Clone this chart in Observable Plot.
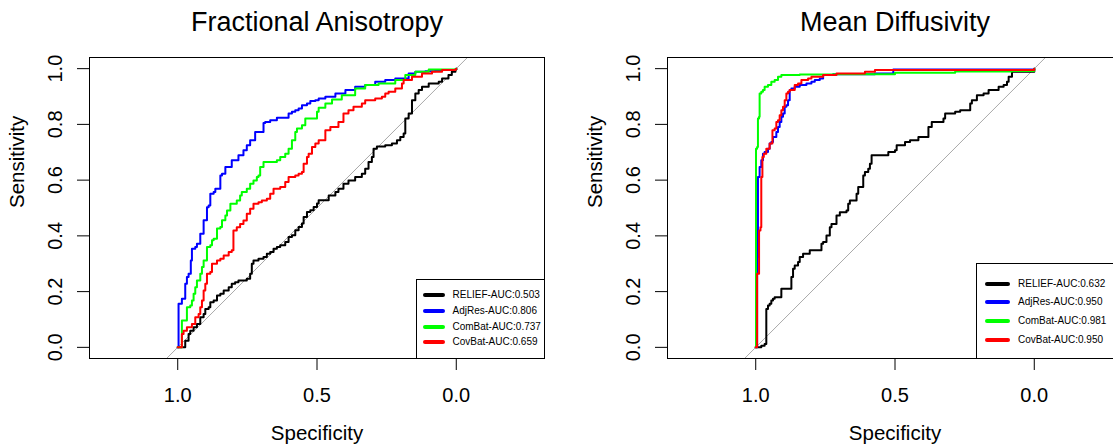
<!DOCTYPE html>
<html>
<head>
<meta charset="utf-8">
<script src="https://cdn.jsdelivr.net/npm/d3@7"></script>
<script src="https://cdn.jsdelivr.net/npm/@observablehq/plot@0.6"></script>
<style>
  body { margin: 0; background: #fff; }
  #wrap { position: relative; width: 1113px; height: 446px; overflow: hidden; background: #fff;
          font-family: "Liberation Sans", Arial, Helvetica, sans-serif; }
  .panel { position: absolute; top: 0; width: 556px; height: 446px; }
  .panel svg { max-width: none !important; width: 556px; height: 446px; }
  .legend { position: absolute; border: 1px solid #000; background: #fff; box-sizing: border-box; }
  .legend .row { position: absolute; left: 0; height: 12px; line-height: 12px; font-size: 10px; color: #000; white-space: nowrap; }
  .legend .sw { position: absolute; height: 4px; border-radius: 2px; top: 4px; }
  .legend .lbl { position: absolute; top: 0; }
</style>
</head>
<body>
<div id="wrap"></div>
<script>
// ---- categories / labels ----
const seriesNames = ["RELIEF", "AdjRes", "ComBat", "CovBat"];
const seriesColors = ["#000000", "#0000FF", "#00FF00", "#FF0000"];
const panelTitles = ["Fractional Anisotropy", "Mean Diffusivity"];
const xTicks = [1.0, 0.5, 0.0];
const yTicks = [0, 0.2, 0.4, 0.6, 0.8, 1.0];
const xLabel = "Specificity";
const yLabel = "Sensitivity";
const aucFA = [0.503, 0.806, 0.737, 0.659];
const aucMD = [0.632, 0.950, 0.981, 0.950];
const xDomain = [1.3167, -0.3167];
const yDomain = [-0.04, 1.04];

// ---- ROC curves [specificity, sensitivity] : Fractional Anisotropy ----
const faRelief = [[1,0],[0.979,0],[0.973,0.024],[0.961,0.048],[0.955,0.060],[0.943,0.072],[0.931,0.084],[0.919,0.108],[0.907,0.120],[0.901,0.138],[0.889,0.144],[0.883,0.162],[0.871,0.168],[0.859,0.186],[0.847,0.192],[0.835,0.204],[0.817,0.216],[0.806,0.228],[0.794,0.234],[0.782,0.240],[0.752,0.246],[0.740,0.264],[0.734,0.300],[0.728,0.312],[0.710,0.318],[0.692,0.324],[0.680,0.336],[0.668,0.342],[0.656,0.354],[0.644,0.360],[0.632,0.366],[0.614,0.378],[0.602,0.396],[0.590,0.402],[0.578,0.420],[0.566,0.432],[0.554,0.444],[0.548,0.468],[0.536,0.486],[0.524,0.492],[0.512,0.504],[0.500,0.516],[0.494,0.528],[0.458,0.545],[0.434,0.557],[0.423,0.569],[0.405,0.587],[0.387,0.599],[0.363,0.611],[0.339,0.623],[0.327,0.641],[0.315,0.665],[0.303,0.683],[0.297,0.713],[0.285,0.721],[0.255,0.725],[0.231,0.731],[0.213,0.743],[0.201,0.755],[0.189,0.767],[0.183,0.821],[0.171,0.839],[0.159,0.887],[0.147,0.911],[0.135,0.923],[0.123,0.935],[0.099,0.947],[0.063,0.953],[0.051,0.965],[0.028,0.977],[0.016,0.989],[0.003,0.997],[0,1]];
const faAdjRes = [[1,0],[0.997,0],[0.997,0.156],[0.985,0.174],[0.973,0.228],[0.967,0.252],[0.961,0.264],[0.953,0.312],[0.949,0.354],[0.937,0.360],[0.931,0.372],[0.919,0.408],[0.907,0.456],[0.895,0.503],[0.889,0.509],[0.883,0.551],[0.871,0.557],[0.865,0.569],[0.847,0.617],[0.841,0.623],[0.829,0.647],[0.806,0.671],[0.782,0.689],[0.764,0.707],[0.752,0.725],[0.740,0.743],[0.722,0.773],[0.692,0.805],[0.686,0.809],[0.668,0.815],[0.644,0.824],[0.602,0.839],[0.590,0.845],[0.578,0.851],[0.566,0.857],[0.554,0.869],[0.536,0.875],[0.524,0.884],[0.506,0.887],[0.494,0.893],[0.470,0.899],[0.434,0.911],[0.398,0.923],[0.363,0.935],[0.327,0.941],[0.291,0.953],[0.255,0.959],[0.219,0.965],[0.171,0.983],[0.147,0.989],[0.111,0.991],[0.075,0.995],[0.028,0.995],[0.003,0.997],[0,1]];
const faComBat = [[1,0],[0.985,0.096],[0.967,0.144],[0.955,0.150],[0.949,0.168],[0.943,0.192],[0.937,0.216],[0.931,0.240],[0.919,0.264],[0.913,0.288],[0.907,0.312],[0.895,0.360],[0.883,0.366],[0.877,0.384],[0.871,0.390],[0.859,0.426],[0.847,0.432],[0.841,0.456],[0.829,0.473],[0.823,0.491],[0.811,0.515],[0.788,0.527],[0.776,0.545],[0.770,0.557],[0.752,0.569],[0.740,0.587],[0.728,0.599],[0.716,0.611],[0.710,0.617],[0.704,0.647],[0.692,0.665],[0.644,0.671],[0.632,0.683],[0.614,0.695],[0.602,0.713],[0.590,0.743],[0.578,0.773],[0.572,0.785],[0.554,0.797],[0.542,0.821],[0.500,0.845],[0.494,0.860],[0.470,0.875],[0.446,0.889],[0.411,0.905],[0.363,0.929],[0.327,0.941],[0.279,0.947],[0.219,0.959],[0.183,0.977],[0.147,0.989],[0.099,0.997],[0.003,0.997],[0,1]];
const faCovBat = [[1,0],[0.985,0.048],[0.979,0.060],[0.967,0.072],[0.949,0.084],[0.937,0.108],[0.925,0.120],[0.919,0.144],[0.913,0.168],[0.907,0.204],[0.901,0.228],[0.895,0.264],[0.883,0.270],[0.877,0.300],[0.859,0.312],[0.847,0.318],[0.835,0.330],[0.817,0.342],[0.806,0.348],[0.800,0.419],[0.788,0.431],[0.776,0.443],[0.764,0.455],[0.752,0.479],[0.740,0.497],[0.728,0.515],[0.710,0.521],[0.698,0.527],[0.680,0.533],[0.668,0.551],[0.656,0.569],[0.632,0.575],[0.614,0.593],[0.602,0.611],[0.578,0.617],[0.566,0.623],[0.554,0.629],[0.548,0.659],[0.536,0.683],[0.530,0.695],[0.518,0.719],[0.506,0.731],[0.494,0.743],[0.470,0.779],[0.452,0.791],[0.423,0.809],[0.405,0.839],[0.387,0.851],[0.369,0.863],[0.339,0.875],[0.327,0.887],[0.291,0.893],[0.267,0.899],[0.255,0.911],[0.243,0.917],[0.219,0.929],[0.195,0.947],[0.189,0.959],[0.159,0.971],[0.123,0.983],[0.087,0.989],[0.051,0.995],[0.003,0.997],[0,1]];

// ---- ROC curves : Mean Diffusivity ----
const mdRelief = [[1,0],[0.980,0.006],[0.968,0.012],[0.962,0.018],[0.962,0.138],[0.956,0.150],[0.950,0.156],[0.944,0.168],[0.938,0.174],[0.932,0.180],[0.908,0.210],[0.872,0.252],[0.866,0.282],[0.860,0.294],[0.848,0.306],[0.842,0.324],[0.830,0.336],[0.806,0.348],[0.764,0.372],[0.758,0.378],[0.746,0.401],[0.734,0.431],[0.728,0.443],[0.710,0.473],[0.698,0.485],[0.674,0.491],[0.668,0.515],[0.662,0.527],[0.638,0.551],[0.632,0.575],[0.614,0.617],[0.608,0.629],[0.596,0.641],[0.590,0.659],[0.584,0.689],[0.524,0.701],[0.500,0.707],[0.494,0.725],[0.464,0.737],[0.446,0.743],[0.416,0.755],[0.380,0.791],[0.368,0.809],[0.326,0.821],[0.320,0.839],[0.284,0.845],[0.266,0.851],[0.230,0.875],[0.224,0.887],[0.206,0.905],[0.182,0.911],[0.164,0.923],[0.128,0.935],[0.110,0.941],[0.098,0.953],[0.092,0.971],[0.080,0.989],[0.008,0.989],[0,1]];
const mdAdjRes = [[1,0],[0.995,0.323],[0.992,0.611],[0.986,0.647],[0.980,0.671],[0.974,0.695],[0.968,0.701],[0.956,0.713],[0.950,0.731],[0.944,0.737],[0.938,0.755],[0.926,0.773],[0.920,0.791],[0.914,0.809],[0.908,0.827],[0.902,0.839],[0.896,0.863],[0.890,0.869],[0.884,0.887],[0.878,0.923],[0.872,0.929],[0.860,0.935],[0.842,0.941],[0.818,0.947],[0.800,0.953],[0.788,0.959],[0.770,0.965],[0.758,0.977],[0.722,0.980],[0.572,0.983],[0.506,0.997],[0,1]];
const mdComBat = [[1,0],[0.999,0.713],[0.995,0.719],[0.992,0.821],[0.988,0.827],[0.986,0.911],[0.980,0.917],[0.974,0.923],[0.968,0.935],[0.956,0.941],[0.944,0.953],[0.932,0.959],[0.920,0.971],[0.908,0.977],[0.842,0.979],[0.722,0.980],[0.500,0.985],[0.284,0.990],[0.080,0.992],[0,1]];
const mdCovBat = [[1,0],[0.995,0.264],[0.988,0.419],[0.983,0.431],[0.980,0.611],[0.976,0.683],[0.971,0.695],[0.962,0.713],[0.950,0.731],[0.940,0.779],[0.932,0.785],[0.926,0.809],[0.920,0.815],[0.914,0.833],[0.908,0.851],[0.902,0.863],[0.896,0.887],[0.890,0.911],[0.884,0.917],[0.878,0.923],[0.860,0.941],[0.848,0.947],[0.836,0.959],[0.812,0.965],[0.800,0.971],[0.758,0.977],[0.710,0.983],[0.608,0.989],[0.572,0.995],[0,1]];

const panels = [
  {title: panelTitles[0], curves: [faRelief, faAdjRes, faComBat, faCovBat], auc: aucFA, left: 0,
   legend: {left: 416, top: 279, width: 129, height: 80, rows: [16, 32, 47.5, 63], sw: [7, 29], text: 36.5}},
  {title: panelTitles[1], curves: [mdRelief, mdAdjRes, mdComBat, mdCovBat], auc: aucMD, left: 578,
   legend: {left: 976, top: 263, width: 147, height: 96, rows: [20.5, 39, 57.5, 76.5], sw: [9, 34], text: 42}}
];

const wrap = document.getElementById("wrap");
const fmt = d3.format(".1f");
const diagonal = yDomain.map(s => [1 - s, s]);

for (const p of panels) {
  const svg = Plot.plot({
    width: 556, height: 446,
    marginLeft: 89, marginRight: 12, marginTop: 57, marginBottom: 88,
    x: {domain: xDomain},
    y: {domain: yDomain},
    style: {fontFamily: "'Liberation Sans', Arial, Helvetica, sans-serif", fontSize: "20px", color: "#000", background: "transparent", maxWidth: "none"},
    marks: [
      Plot.axisX({ticks: xTicks, tickSize: 12, tickPadding: 17, tickFormat: fmt, label: null, stroke: "#000", fontSize: 20}),
      Plot.axisY({ticks: yTicks, tickSize: 12, tickPadding: 16, tickRotate: -90, tickFormat: fmt, label: null, stroke: "#000", fontSize: 20}),
      Plot.line(diagonal, {x: d => d[0], y: d => d[1], stroke: "#A9A9A9", strokeWidth: 1, clip: true}),
      ...p.curves.map((c, i) => Plot.line(c, {x: d => d[0], y: d => d[1], stroke: seriesColors[i], strokeWidth: 2, curve: "step-after", clip: true})),
      Plot.frame({stroke: "#000", strokeWidth: 1}),
      Plot.text([p.title], {frameAnchor: "top", lineAnchor: "bottom", dy: -26.3, fontSize: 27}),
      Plot.text([xLabel], {frameAnchor: "bottom", lineAnchor: "bottom", dy: 81, fontSize: 20.5}),
      Plot.text([yLabel], {frameAnchor: "left", lineAnchor: "bottom", rotate: -90, dx: -65.3, fontSize: 20.5})
    ]
  });
  svg.style.maxWidth = "none";
  const holder = document.createElement("div");
  holder.className = "panel";
  holder.style.left = p.left + "px";
  holder.appendChild(svg);
  wrap.appendChild(holder);

  // legend
  const L = p.legend;
  const lg = document.createElement("div");
  lg.className = "legend";
  Object.assign(lg.style, {left: L.left + "px", top: L.top + "px", width: L.width + "px", height: L.height + "px"});
  seriesNames.forEach((name, i) => {
    const row = document.createElement("div");
    row.className = "row";
    row.style.top = (L.rows[i] - 6 - 1) + "px";
    const sw = document.createElement("div");
    sw.className = "sw";
    Object.assign(sw.style, {left: (L.sw[0] - 1) + "px", width: (L.sw[1] - L.sw[0]) + "px", background: seriesColors[i]});
    const lbl = document.createElement("span");
    lbl.className = "lbl";
    lbl.style.left = (L.text - 1) + "px";
    lbl.textContent = `${name}-AUC:${p.auc[i].toFixed(3)}`;
    row.appendChild(sw);
    row.appendChild(lbl);
    lg.appendChild(row);
  });
  wrap.appendChild(lg);
}
</script>
</body>
</html>
